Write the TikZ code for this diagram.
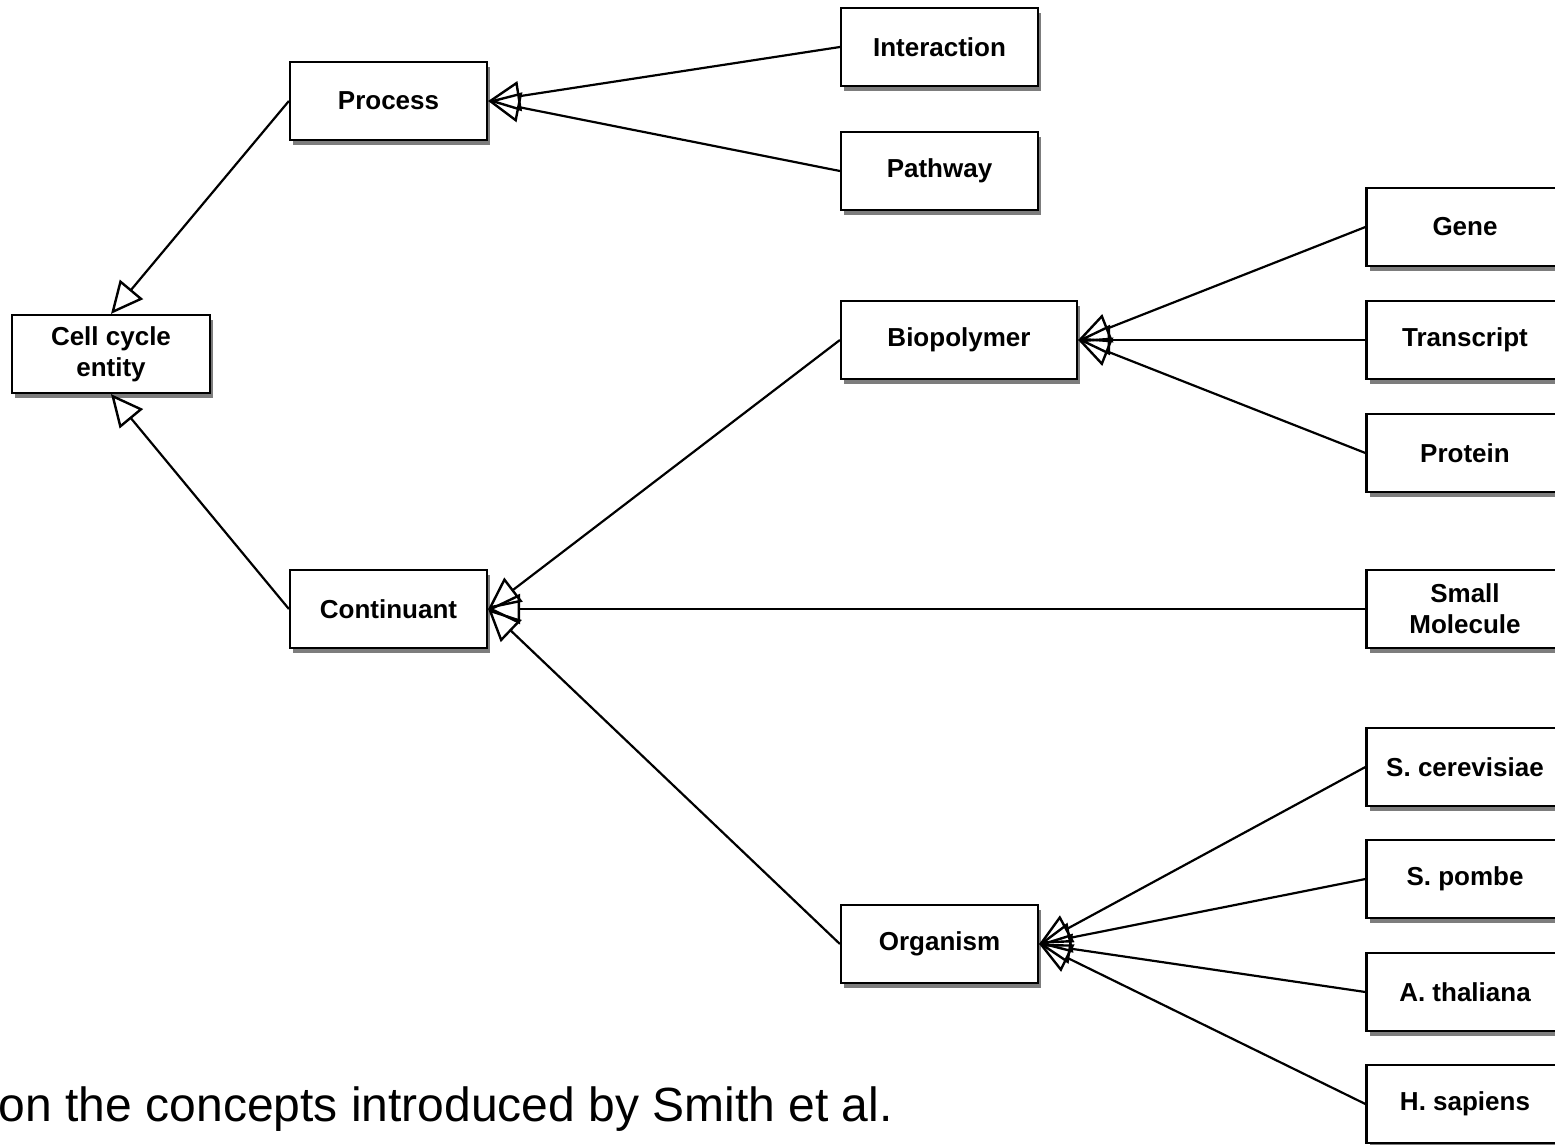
\documentclass[tikz,border=0pt]{standalone}
\usepackage{fontspec}
\setmainfont{Liberation Sans}
\usetikzlibrary{arrows.meta,shadows}
\begin{document}
\begin{tikzpicture}[x=1pt,y=-1pt,
  box/.style={draw=black, line width=2.2pt, fill=white, minimum width=197pt, minimum height=78pt,
    inner sep=0pt, align=center, font=\fontsize{26}{31}\selectfont\bfseries,
    drop shadow={shadow xshift=3pt, shadow yshift=-5pt, fill=black!60, opacity=0.85}},
  isa/.style={draw=black, line width=2.2pt, -{Triangle[open, length=32pt, width=30pt, line width=2.4pt]}}
]
\useasboundingbox (0,0) rectangle (1555,1145);
% level 0
\node[box, minimum width=198pt] (cce) at (111,354) {Cell cycle\\entity};
% level 1
\node[box] (proc) at (388.5,101) {Process};
\node[box] (cont) at (388.5,609) {Continuant};
% level 2
\node[box] (inter) at (939.5,47) {Interaction};
\node[box] (path) at (939.5,171) {Pathway};
\node[box, minimum width=236pt] (bio) at (959,340) {Biopolymer};
\node[box] (org) at (939.5,944) {Organism};
% level 3
\node[box] (gene) at (1465,227) {Gene};
\node[box] (trans) at (1465,340) {Transcript};
\node[box] (prot) at (1465,453) {Protein};
\node[box] (small) at (1465,609) {Small\\Molecule};
\node[box] (scer) at (1465,767) {S. cerevisiae};
\node[box] (spom) at (1465,879) {S. pombe};
\node[box] (atha) at (1465,992) {A. thaliana};
\node[box] (hsap) at (1465,1104) {H. sapiens};
% connectors
\draw[isa] (proc.west) -- (cce.north);
\draw[isa] (cont.west) -- (cce.south);
\draw[isa] (inter.west) -- (proc.east);
\draw[isa] (path.west) -- (proc.east);
\draw[isa] (bio.west) -- (cont.east);
\draw[isa] (small.west) -- (cont.east);
\draw[isa] (org.west) -- (cont.east);
\draw[isa] (gene.west) -- (bio.east);
\draw[isa] (trans.west) -- (bio.east);
\draw[isa] (prot.west) -- (bio.east);
\draw[isa] (scer.west) -- (org.east);
\draw[isa] (spom.west) -- (org.east);
\draw[isa] (atha.west) -- (org.east);
\draw[isa] (hsap.west) -- (org.east);
% caption fragment
\node[anchor=base east, inner sep=0pt, font=\fontsize{48}{56}\selectfont] (cap) at (893,1121) {on the concepts introduced by Smith et al.};
\end{tikzpicture}
\end{document}
